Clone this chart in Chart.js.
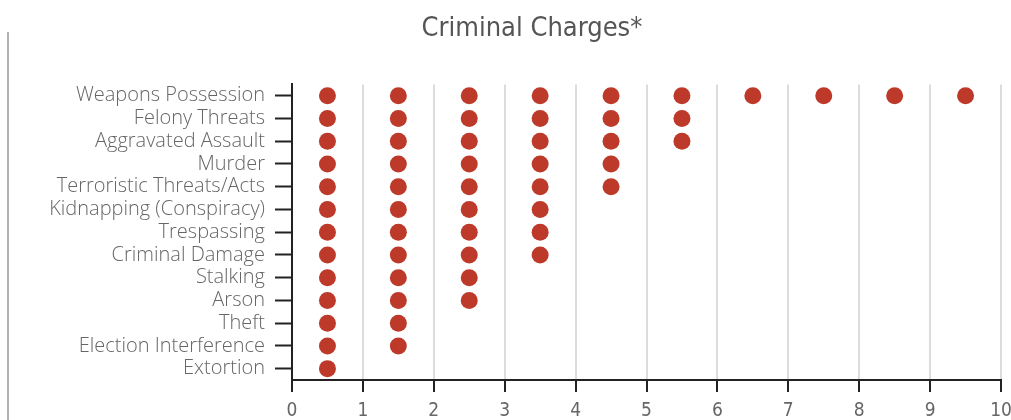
<!DOCTYPE html>
<html>
<head>
<meta charset="utf-8">
<script src="https://cdn.jsdelivr.net/npm/chart.js@4/dist/chart.umd.min.js"></script>
<style>
  body { margin: 0; background: #fff; }
  #wrap { position: relative; width: 1011px; height: 420px; overflow: hidden; }
  #box { position: absolute; left: 0; top: 0; width: 1011px; height: 420px; }
  #rule { position: absolute; left: 7px; top: 32px; width: 2px; height: 388px; background: #b3b3b3; }
</style>
</head>
<body>
<div id="wrap">
  <div id="rule"></div>
  <div id="box"><canvas id="myChart"></canvas></div>
</div>
<script>
const charges = [
  'Weapons Possession', 'Felony Threats', 'Aggravated Assault', 'Murder',
  'Terroristic Threats/Acts', 'Kidnapping (Conspiracy)', 'Trespassing',
  'Criminal Damage', 'Stalking', 'Arson', 'Theft', 'Election Interference', 'Extortion'
];
const counts = [10, 6, 6, 5, 5, 4, 4, 4, 3, 3, 2, 2, 1];
const xTicks = [0, 1, 2, 3, 4, 5, 6, 7, 8, 9, 10];

// one dot per charge count, centred in each unit column
const dots = [];
charges.forEach(function (c, i) {
  for (let k = 0; k < counts[i]; k++) {
    dots.push({ x: k + 0.5, y: c });
  }
});

const condensed = '"Liberation Sans Narrow", "DejaVu Sans Condensed", "Roboto", sans-serif';

// the original title sits a bit right of the canvas centre
const nudgeTitle = {
  id: 'nudgeTitle',
  afterLayout: function (chart) {
    if (chart.titleBlock) {
      chart.titleBlock.left += 63;
    }
  }
};

const ctx = document.getElementById('myChart');
var myChart = new Chart(ctx, {
  type: 'scatter',
  data: {
    datasets: [{
      label: 'Charges',
      data: dots,
      backgroundColor: '#bd3a2b',
      borderWidth: 0,
      pointRadius: 8.5,
      pointHoverRadius: 8.5
    }]
  },
  options: {
    responsive: true,
    maintainAspectRatio: false,
    animation: false,
    layout: { padding: { left: 0, right: 10, top: 0, bottom: 0 } },
    plugins: {
      legend: { display: false },
      tooltip: { enabled: false },
      title: {
        display: true,
        text: 'Criminal Charges*',
        color: '#555',
        font: { family: condensed, size: 27, weight: 'normal' },
        padding: { top: 13, bottom: 39 }
      }
    },
    scales: {
      y: {
        type: 'category',
        labels: charges,
        offset: true,
        afterFit: function (s) { s.width = 292; },
        grid: {
          offset: false,
          color: 'rgba(0,0,0,0)',
          tickColor: '#222',
          tickLength: 17,
          tickWidth: 2
        },
        border: { color: '#222', width: 2 },
        ticks: {
          color: '#666',
          padding: 10,
          autoSkip: false,
          font: { family: '"Open Sans", sans-serif', size: 20, weight: '300' }
        }
      },
      x: {
        type: 'linear',
        min: 0,
        max: 10,
        afterBuildTicks: function (s) { s.ticks = xTicks.map(function (v) { return { value: v }; }); },
        afterFit: function (s) { s.height = 40; s.paddingRight = 0; },
        grid: {
          color: '#dcdcdc',
          lineWidth: 2,
          tickColor: '#222',
          tickLength: 12,
          tickWidth: 2
        },
        border: { color: '#222', width: 2 },
        ticks: {
          color: '#666',
          padding: 8,
          font: { family: condensed, size: 19 }
        }
      }
    }
  },
  plugins: [nudgeTitle]
});
</script>
</body>
</html>
